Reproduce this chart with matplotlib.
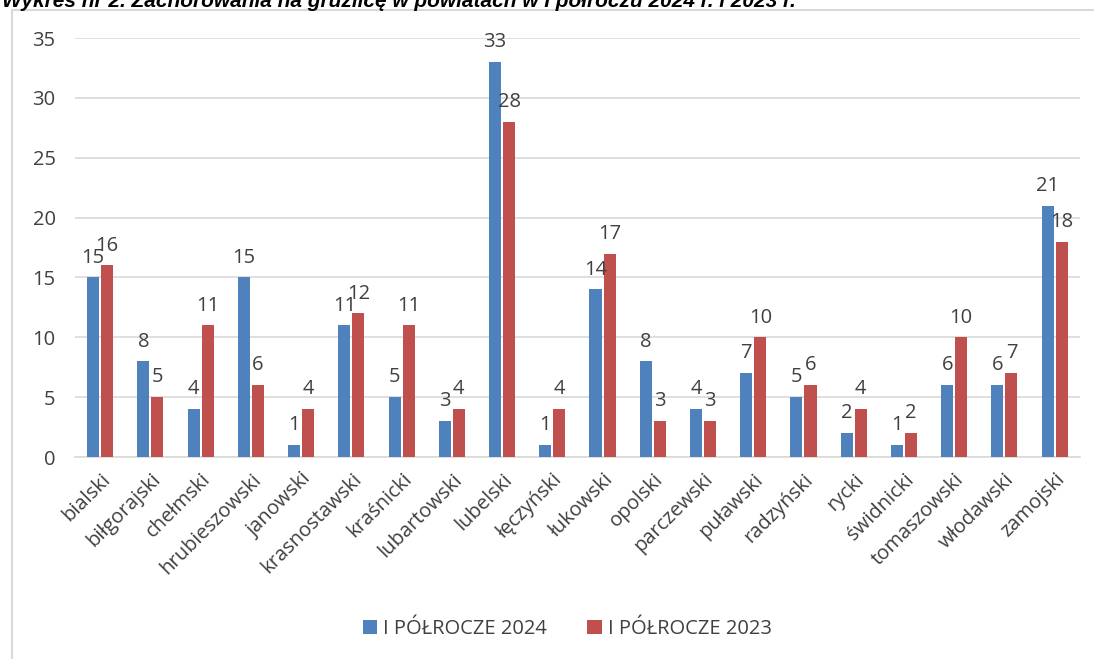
import numpy as np
import matplotlib.pyplot as plt
from matplotlib.patches import Rectangle

plt.rcParams["font.family"] = ["Open Sans", "DejaVu Sans"]

powiaty = ["bialski", "biłgorajski", "chełmski", "hrubieszowski", "janowski",
           "krasnostawski", "kraśnicki", "lubartowski", "lubelski", "łęczyński",
           "łukowski", "opolski", "parczewski", "puławski", "radzyński",
           "rycki", "świdnicki", "tomaszowski", "włodawski", "zamojski"]
h1_2024 = [15, 8, 4, 15, 1, 11, 5, 3, 33, 1, 14, 8, 4, 7, 5, 2, 1, 6, 6, 21]
h1_2023 = [16, 5, 11, 6, 4, 12, 11, 4, 28, 4, 17, 3, 3, 10, 6, 4, 2, 10, 7, 18]
series_names = ["I PÓŁROCZE 2024", "I PÓŁROCZE 2023"]

BLUE = "#4F81BD"
RED = "#C0504D"
TXT = "#404040"
FS = 14.5

fig = plt.figure(figsize=(10.94, 6.59), dpi=100)
ax = fig.add_axes([0.0686, 0.3065, 0.9184, 0.6358])

# chart frame (Excel-like border)
fig.patches.append(Rectangle((0.011, -0.01), 1.2, 0.995, transform=fig.transFigure,
                             fill=False, edgecolor="#D9D9D9", linewidth=1.5))

# title, cut off at the top edge like in the source
fig.text(0.002, 0.998, "Wykres nr 2. Zachorowania na gruźlicę w powiatach w I półroczu 2024 r. i 2023 r.",
         family="Liberation Sans", fontsize=15, fontweight="bold", fontstyle="italic",
         ha="left", va="center", color="black")

x = np.arange(len(powiaty))
w = 0.24
off = 0.14
b1 = ax.bar(x - off, h1_2024, w, color=BLUE, label=series_names[0], zorder=3)
b2 = ax.bar(x + off, h1_2023, w, color=RED, label=series_names[1], zorder=3)

for bars, vals in [(b1, h1_2024), (b2, h1_2023)]:
    for r, v in zip(bars, vals):
        ax.annotate(str(v), (r.get_x() + r.get_width() / 2, v), xytext=(0, 7),
                    textcoords="offset points", ha="center", va="bottom",
                    fontsize=FS, color=TXT)

ax.set_xlim(-0.5, len(powiaty) - 0.5)
ax.set_ylim(0, 35)
ax.set_yticks(range(0, 36, 5))
ax.grid(axis="y", color="#D9D9D9", linewidth=1.2, zorder=0)
ax.set_axisbelow(True)
for s in ["top", "right", "left"]:
    ax.spines[s].set_visible(False)
ax.spines["bottom"].set_color("#D9D9D9")
ax.spines["bottom"].set_linewidth(1.2)
ax.tick_params(axis="both", length=0, labelsize=FS, colors=TXT, pad=9)
ax.tick_params(axis="y", pad=14)
ax.set_xticks(x)
ax.set_xticklabels(powiaty, rotation=45, ha="right", rotation_mode="anchor")

ax.legend(loc="center", bbox_to_anchor=(0.49, -0.41), ncol=2, frameon=False,
          fontsize=FS, labelcolor=TXT, handlelength=0.7, handleheight=0.7,
          handletextpad=0.3, columnspacing=2.0)

fig.savefig("out.png", dpi=100)
